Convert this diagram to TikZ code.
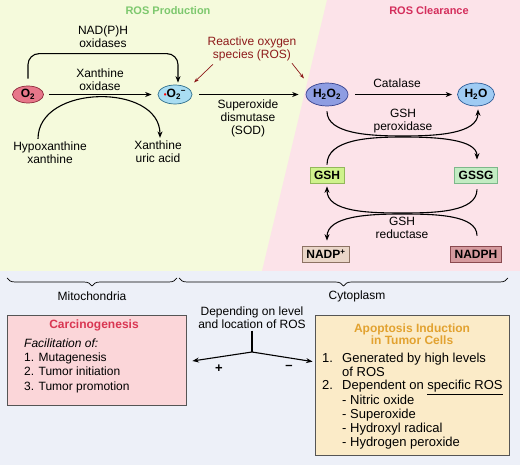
\documentclass[tikz,border=0pt]{standalone}
\usepackage{fontspec}
\setmainfont{Liberation Sans}
\usetikzlibrary{shapes.geometric,arrows.meta,decorations.pathreplacing,calc}
\definecolor{bggreen}{HTML}{F5FADC}
\definecolor{bgpink}{HTML}{FCE3E9}
\definecolor{bgblue}{HTML}{EDF0F8}
\definecolor{hgreen}{HTML}{7DC86E}
\definecolor{hred}{HTML}{D42E5C}
\definecolor{rosred}{HTML}{8E1B1B}
\definecolor{otwofill}{HTML}{E7778A}
\definecolor{otwodraw}{HTML}{8E2A3C}
\definecolor{supfill}{HTML}{A9DDF2}
\definecolor{supdraw}{HTML}{2F6F8C}
\definecolor{hhfill}{HTML}{8E9DE2}
\definecolor{hhdraw}{HTML}{36418C}
\definecolor{wfill}{HTML}{9FCBF3}
\definecolor{wdraw}{HTML}{2D5C98}
\definecolor{gshfill}{HTML}{CFF28C}
\definecolor{gshdraw}{HTML}{93B85A}
\definecolor{gssgfill}{HTML}{C3ECC3}
\definecolor{gssgdraw}{HTML}{7DB88A}
\definecolor{nadpfill}{HTML}{EAD6C8}
\definecolor{nadpdraw}{HTML}{8C7263}
\definecolor{nadphfill}{HTML}{D59A9E}
\definecolor{nadphdraw}{HTML}{8A4A50}
\definecolor{carcfill}{HTML}{FBD6D9}
\definecolor{carctitle}{HTML}{D93652}
\definecolor{apopfill}{HTML}{FBEBC8}
\definecolor{apoptitle}{HTML}{E2A230}
\definecolor{boxline}{HTML}{555555}
\begin{document}
\begin{tikzpicture}[x=1pt,y=-1pt,
  every node/.style={font=\fontsize{12}{13}\selectfont},
  lbl/.style={align=center, inner sep=0pt},
  arr/.style={line width=1.1pt, -{Stealth[length=6.5pt,width=5pt]}},
  plainln/.style={line width=1.1pt},
  rarr/.style={rosred, line width=0.7pt, -{Stealth[length=5pt,width=3.5pt]}},
  mol/.style={ellipse, inner sep=0pt, line width=0.7pt, font=\bfseries\fontsize{12}{13}\selectfont},
  cbox/.style={rectangle, inner xsep=4pt, inner ysep=0pt, minimum height=16pt, line width=0.7pt, font=\bfseries\fontsize{12}{13}\selectfont},
  brc/.style={line width=0.7pt, decorate, decoration={brace, mirror, amplitude=8pt}},
  bigbox/.style={draw=boxline, line width=0.8pt, inner sep=0pt},
]
\useasboundingbox (0,0) rectangle (520,465);
% backgrounds
\fill[bggreen] (0,0) rectangle (520,271);
\fill[bgpink] (327,0) -- (520,0) -- (520,271) -- (262,271) -- cycle;
\fill[bgblue] (0,271) rectangle (520,465);

% headings
\node[font=\bfseries\fontsize{11}{13}\selectfont, text=hgreen] (hprod) at (168,11) {ROS Production};
\node[font=\bfseries\fontsize{11}{13}\selectfont, text=hred] (hclr) at (429,11) {ROS Clearance};

% molecules
\node[mol, fill=otwofill, draw=otwodraw, minimum width=31pt, minimum height=17pt] (o2) at (28,94.5) {O\textsubscript{2}};
\node[mol, fill=supfill, draw=supdraw, minimum width=34pt, minimum height=19pt] (sup) at (175,94.5) {\textcolor{red}{\footnotesize\textbullet}O\textsubscript{2}\textsuperscript{−}};
\node[mol, fill=hhfill, draw=hhdraw, minimum width=42pt, minimum height=23pt] (h2o2) at (327,94.5) {H\textsubscript{2}O\textsubscript{2}};
\node[mol, fill=wfill, draw=wdraw, minimum width=37pt, minimum height=23pt] (h2o) at (476,94.5) {H\textsubscript{2}O};

\node[cbox, fill=gshfill, draw=gshdraw] (gsh) at (327,175) {GSH};
\node[cbox, fill=gssgfill, draw=gssgdraw] (gssg) at (476,175) {GSSG};
\node[cbox, fill=nadpfill, draw=nadpdraw] (nadp) at (326,254) {NADP\textsuperscript{+}};
\node[cbox, fill=nadphfill, draw=nadphdraw] (nadph) at (476,254) {NADPH};

% labels
\node[lbl] (nadox) at (103,37) {NAD(P)H\\oxidases};
\node[lbl] (xox) at (100,79.5) {Xanthine\\oxidase};
\node[lbl, text=rosred] (ros) at (252,49) {Reactive oxygen\\species (ROS)};
\node[lbl] (sod) at (248,118) {Superoxide\\dismutase\\(SOD)};
\node[lbl] (hypx) at (50,153) {Hypoxanthine\\xanthine};
\node[lbl] (xua) at (158,152) {Xanthine\\uric acid};
\node[lbl] (cat) at (397,83) {Catalase};
\node[lbl] (gpx) at (403,121) {GSH\\peroxidase};
\node[lbl] (gred) at (402,228) {GSH\\reductase};

% production connectors
\draw[arr, rounded corners=11pt] ([yshift=7pt]o2.north) -- ++(0,-25) -| ([xshift=3pt,yshift=2pt]sup.north);
\draw[arr, shorten <=5pt, shorten >=6pt] (o2.east) -- (sup.west);
\draw[arr] ([xshift=-12pt,yshift=3pt]hypx.north) .. controls +(0,-55) and +(0,-55) .. ([xshift=2pt,yshift=3pt]xua.north);
\draw[arr, shorten <=7pt, shorten >=7pt] (sup.east) -- (h2o2.west);
\draw[rarr] ($(ros.south)+(-39,3)$) -- ($(sup.center)+(19,-12)$);
\draw[rarr] ($(ros.south)+(40,2)$) -- ($(h2o2.center)+(-23,-16)$);

% clearance connectors
\draw[arr, shorten <=7pt, shorten >=5pt] (h2o2.east) -- (h2o.west);
\draw[arr] ([yshift=-5pt]h2o2.south) .. controls (327,134) and (370,136) .. (403,136) .. controls (436,136) and (478,134) .. ([xshift=2pt,yshift=-3pt]h2o.south);
\draw[arr] ([yshift=2pt]gsh.north) .. controls (327,139) and (370,137) .. (403,137) .. controls (436,137) and (477,139) .. ([xshift=1pt,yshift=7pt]gssg.north);
\draw[arr] ([xshift=1pt,yshift=-6pt]gssg.south) .. controls (477,212) and (436,213) .. (402,213) .. controls (368,213) and (327,212) .. ([yshift=-3pt]gsh.south);
\draw[arr] ([xshift=1pt,yshift=10pt]nadph.north) .. controls (477,215) and (436,214) .. (402,214) .. controls (368,214) and (327,216) .. ([xshift=1pt,yshift=5pt]nadp.north);

% braces
\draw[brc] (7,278) -- (177,278);
\draw[brc] (179,278) -- (508,278);
\node[lbl] (mito) at (92,296) {Mitochondria};
\node[lbl] (cyto) at (357,296) {Cytoplasm};

% bottom boxes
\node[bigbox, fill=carcfill, minimum width=179pt, minimum height=90pt] (carc) at (96.5,360) {};
\node[font=\bfseries\fontsize{12}{13}\selectfont, text=carctitle, inner sep=0pt] (carct) at (94,325) {Carcinogenesis};
\node[align=left, inner sep=0pt, anchor=west, font=\fontsize{12}{14.3}\selectfont] (carcb) at (24,365.5) {\textit{Facilitation of:}\\1. Mutagenesis\\2. Tumor initiation\\3. Tumor promotion};

\node[bigbox, fill=apopfill, minimum width=194pt, minimum height=140pt] (apop) at (412,385) {};
\node[font=\bfseries\fontsize{12}{12.5}\selectfont, text=apoptitle, align=center, inner sep=0pt] (apopt) at (412,334) {Apoptosis Induction\\in Tumor Cells};
\node[align=left, inner sep=0pt, anchor=west, font=\fontsize{13}{13.85}\selectfont] (apopb) at (322,401) {\makebox[20pt][l]{1.}Generated by high levels\\\hspace*{20pt}of ROS\\\makebox[20pt][l]{2.}Dependent on \underline{specific ROS}\\\hspace*{20pt}- Nitric oxide\\\hspace*{20pt}- Superoxide\\\hspace*{20pt}- Hydroxyl radical\\\hspace*{20pt}- Hydrogen peroxide};

% decision
\node[lbl] (dep) at (252,317.5) {Depending on level\\and location of ROS};
\coordinate (jn) at (252,352);
\draw[plainln] ([yshift=-2pt]dep.south) -- (jn);
\draw[arr] (jn) -- ($(carc.east)+(6,1)$);
\draw[arr] (jn) -- ($(apop.north west)+(-2,47)$);
\node[font=\bfseries\fontsize{13}{13}\selectfont, inner sep=0pt] (plus) at (219,369) {+};
\node[font=\bfseries\fontsize{13}{13}\selectfont, inner sep=0pt] (minus) at (289,367) {–};
\end{tikzpicture}
\end{document}
